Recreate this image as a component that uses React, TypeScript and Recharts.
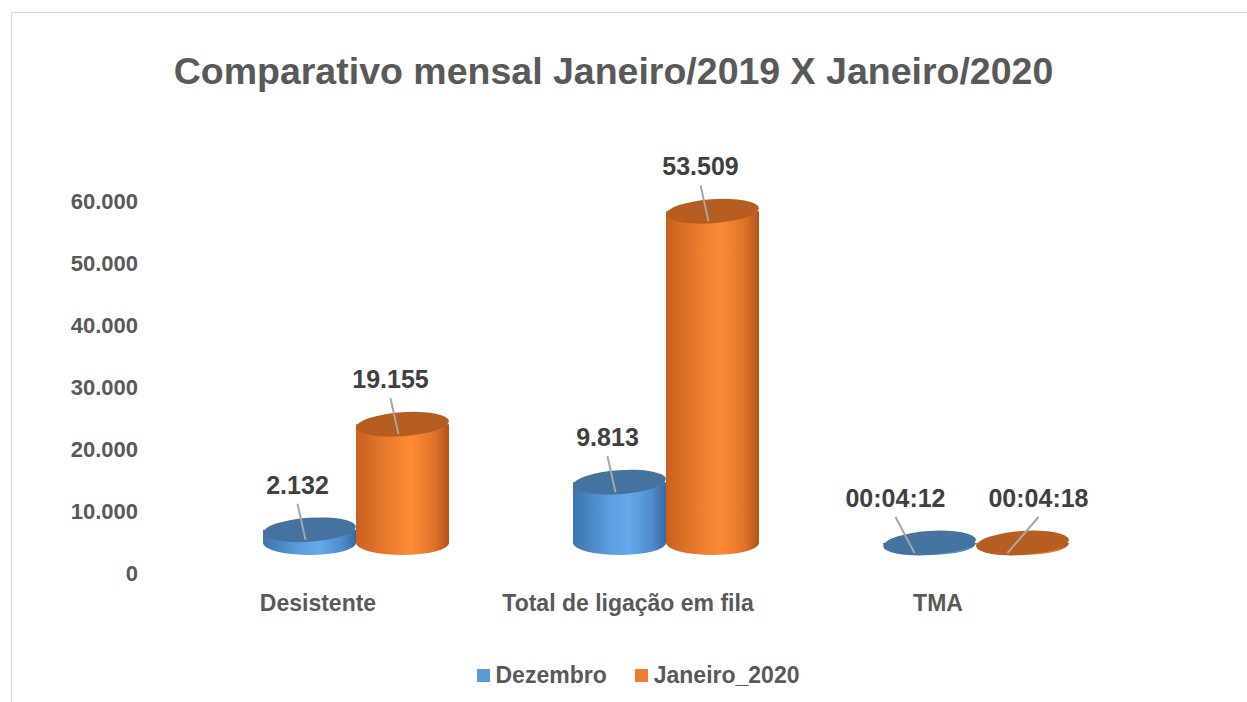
import React from 'react';
import { BarChart, Bar, XAxis, YAxis, Legend, LabelList } from 'recharts';

const categories = ['Desistente', 'Total de ligação em fila', 'TMA'];
const dezembro = [2132, 9813, 0.0029167];
const janeiro2020 = [19155, 53509, 0.0029861];
const dezembroLabels = ['2.132', '9.813', '00:04:12'];
const janeiroLabels = ['19.155', '53.509', '00:04:18'];
const yTicks = [0, 10000, 20000, 30000, 40000, 50000, 60000];

const data = categories.map((name, i) => ({
  name,
  dezembro: dezembro[i],
  janeiro: janeiro2020[i],
  dezLabel: dezembroLabels[i],
  janLabel: janeiroLabels[i],
}));

const FONT = '"Liberation Sans", Arial, sans-serif';
const GREY = '#595959';

// fake 3d: push cylinders back/up like the excel perspective
const DX = 38;
const DY = -30;
const RY = 12;

const palettes = {
  blue: { id: 'cylBlue', stops: ['#3b73ad', '#5d9fe0', '#64a9ea', '#4f8ccb', '#3a6a9c'], top: '#44739f' },
  orange: { id: 'cylOrange', stops: ['#c9601f', '#ef8030', '#fc8b36', '#df7228', '#b0531a'], top: '#b65d21' },
};

type Pal = typeof palettes.blue;

function Cylinder(props: any) {
  const { x, y, width, height, pal } = props as { x: number; y: number; width: number; height: number; pal: Pal };
  const left = x + DX;
  const right = left + width;
  const rx = width / 2;
  const cx = left + rx;
  const top = y + DY;
  const bot = y + Math.max(height, 0) + DY;
  const offs = [0, 0.4, 0.6, 0.85, 1];
  return (
    <g>
      <defs>
        <linearGradient id={pal.id} x1="0" y1="0" x2="1" y2="0">
          {pal.stops.map((c, i) => (
            <stop key={i} offset={offs[i]} stopColor={c} />
          ))}
        </linearGradient>
      </defs>
      <path
        d={`M${left},${top} L${left},${bot} A${rx},${RY} 0 0 0 ${right},${bot} L${right},${top} Z`}
        fill={`url(#${pal.id})`}
      />
      <ellipse cx={cx} cy={top} rx={rx} ry={RY} fill={pal.top} transform={`rotate(-4 ${cx} ${top})`} />
    </g>
  );
}

// side: -1 for the left series, 1 for the right one (wide time labels get pushed apart)
function ValueLabel(props: any) {
  const { x, y, width, value, side } = props;
  const cx = Number(x) + Number(width) / 2 + DX;
  const top = Number(y) + DY;
  const wide = String(value).includes(':');
  const lx = cx - 12 + (wide ? (side < 0 ? -22 : 28) : 0);
  const ly = top - 40;
  const tipX = wide ? cx + (side < 0 ? -15 : -15) : lx + 8;
  return (
    <g>
      <line x1={lx} y1={ly + 14} x2={tipX} y2={top + 10} stroke="#a6a6a6" strokeWidth={2} />
      <text x={lx} y={ly + 4} textAnchor="middle" fontFamily={FONT} fontWeight="bold" fontSize={25} fill="#404040">
        {value}
      </text>
    </g>
  );
}

function LegendBox() {
  const items = [
    { label: 'Dezembro', color: '#5b9bd5' },
    { label: 'Janeiro_2020', color: '#ed7d31' },
  ];
  return (
    <div
      style={{
        height: 30,
        display: 'flex',
        justifyContent: 'center',
        alignItems: 'center',
        paddingLeft: 29,
        fontFamily: FONT,
        fontWeight: 'bold',
        fontSize: 23,
        color: GREY,
      }}
    >
      {items.map((it) => (
        <span key={it.label} style={{ display: 'flex', alignItems: 'center', margin: '0 14px' }}>
          <span style={{ width: 13, height: 13, background: it.color, marginRight: 6 }} />
          {it.label}
        </span>
      ))}
    </div>
  );
}

const fmt = (v: number) => String(v).replace(/\B(?=(\d{3})+(?!\d))/g, '.');

export default function App() {
  return (
    <div style={{ position: 'fixed', left: 0, top: 0, width: 1247, height: 702, overflow: 'hidden', background: '#fff' }}>
      <div
        style={{
          position: 'absolute',
          left: 11,
          top: 12,
          width: 1400,
          height: 900,
          border: '1px solid #d9d9d9',
        }}
      />
      <div
        style={{
          position: 'absolute',
          left: 0,
          top: 50,
          width: 1227,
          textAlign: 'center',
          fontFamily: FONT,
          fontWeight: 'bold',
          fontSize: 37.5,
          lineHeight: '42px',
          color: GREY,
        }}
      >
        Comparativo mensal Janeiro/2019 X Janeiro/2020
      </div>
      <div style={{ position: 'absolute', left: 0, top: 0 }}>
        <BarChart
          width={1247}
          height={702}
          data={data}
          margin={{ top: 201, right: 154, bottom: 12, left: 103 }}
          barCategoryGap="20%"
          barGap={0}
        >
          <XAxis
            dataKey="name"
            height={87}
            axisLine={false}
            tickLine={false}
            tickSize={0}
            tickMargin={22}
            tick={{ fill: GREY, fontSize: 23, fontWeight: 'bold', fontFamily: FONT }}
          />
          <YAxis
            width={60}
            domain={[0, 60000]}
            ticks={yTicks}
            axisLine={false}
            tickLine={false}
            tickSize={0}
            tickMargin={25}
            tickFormatter={fmt}
            tick={{ fill: GREY, fontSize: 22, fontWeight: 'bold', fontFamily: FONT }}
          />
          <Legend verticalAlign="bottom" content={() => <LegendBox />} wrapperStyle={{ left: 0, width: 1247 }} />
          <Bar dataKey="dezembro" fill="#5b9bd5" isAnimationActive={false} shape={(p: any) => <Cylinder {...p} pal={palettes.blue} />}>
            <LabelList dataKey="dezLabel" content={(p: any) => <ValueLabel {...p} side={-1} />} />
          </Bar>
          <Bar dataKey="janeiro" fill="#ed7d31" isAnimationActive={false} shape={(p: any) => <Cylinder {...p} pal={palettes.orange} />}>
            <LabelList dataKey="janLabel" content={(p: any) => <ValueLabel {...p} side={1} />} />
          </Bar>
        </BarChart>
      </div>
    </div>
  );
}
